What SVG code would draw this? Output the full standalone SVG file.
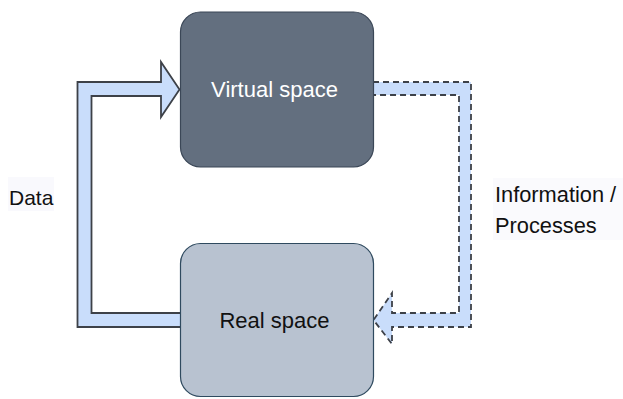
<svg xmlns="http://www.w3.org/2000/svg" width="623" height="399" viewBox="0 0 623 399">
<style>
.conn{fill:#c9ddfb;stroke:#3d4148;stroke-width:1.8;stroke-linejoin:miter}
.dash{stroke-dasharray:6 4}
.lbl{font-family:"Liberation Sans",Arial,sans-serif;font-size:21px;fill:#111}
.lbl2{font-family:"Liberation Sans",Arial,sans-serif;font-size:21.8px;fill:#111}
.ntxt{font-family:"Liberation Sans",Arial,sans-serif;font-size:22px;text-anchor:middle}
</style>
<rect width="623" height="399" fill="#ffffff"/>
<g id="connectors">
<path id="data-arrow" class="conn" d="M180,313 L91.5,313 L91.5,96 L161,96 L161,117 L179.5,89.5 L161,62 L161,82 L77.5,82 L77.5,327 L180,327"/>
<path id="info-arrow" class="conn dash" d="M373,82 L471,82 L471,327 L392,327 L392,344 L373.5,320 L392,293 L392,313 L459,313 L459,95 L373,95"/>
</g>
<g id="virtual">
<rect x="180.5" y="12" width="193" height="155" rx="20" fill="#636f7f" stroke="#3b4757" stroke-width="1.2"/>
<text class="ntxt" x="274.5" y="96.5" fill="#ffffff">Virtual space</text>
</g>
<g id="real">
<rect x="180.5" y="243.5" width="193" height="153" rx="20" fill="#b8c2d0" stroke="#2f4a5f" stroke-width="1.2"/>
<text class="ntxt" x="274.5" y="327.5" fill="#111">Real space</text>
</g>
<g id="label-data">
<rect x="8" y="177" width="46" height="34" fill="#f9f9fd"/>
<text class="lbl" x="9" y="205">Data</text>
</g>
<g id="label-info">
<rect x="493" y="178" width="130" height="62" fill="#fafafd"/>
<text class="lbl2" x="495" y="201.5">Information /</text>
<text class="lbl2" x="495" y="232.5">Processes</text>
</g>
</svg>
